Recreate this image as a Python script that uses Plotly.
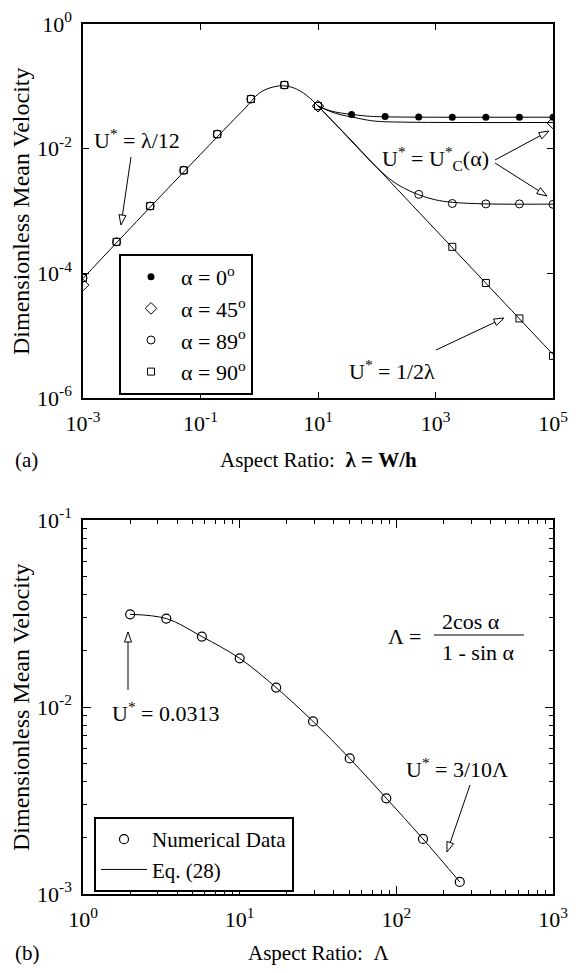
import math
import plotly.graph_objects as go

W, H = 579, 973
FONT = "Liberation Serif"

# ---------------- data: panel (a) ----------------
lam_a0 = [37.3, 139, 518, 1931, 7197, 26827, 100000]
u_a0 = [0.0352, 0.0328, 0.0321, 0.0320, 0.0320, 0.0320, 0.0320]

lam_a45 = [0.001, 10.0, 100000]
u_a45 = [6.5e-5, 0.0480, 0.0258]

lam_a89 = [0.001, 0.00373, 0.0139, 0.0518, 0.193, 0.720, 2.68, 10.0,
           518, 1931, 7197, 26827, 100000]
u_a89 = [8.4e-5, 3.2e-4, 1.2e-3, 4.5e-3, 0.0171, 0.0625, 0.105, 0.0483,
         1.85e-3, 1.32e-3, 1.30e-3, 1.30e-3, 1.28e-3]

lam_a90 = [0.001, 0.00373, 0.0139, 0.0518, 0.193, 0.720, 2.68, 10.0,
           1931, 7197, 26827, 100000]
u_a90 = [8.4e-5, 3.2e-4, 1.2e-3, 4.5e-3, 0.0171, 0.0625, 0.105, 0.0483,
         2.66e-4, 7.0e-5, 1.89e-5, 4.74e-6]

# theory curves
lam_l90 = [0.001, 0.01, 0.1, 0.316, 0.562, 1.0, 1.585, 2.512, 3.981, 6.31,
           10.0, 15.85, 31.6, 100, 1000, 10000, 100000]
u_l90 = [8.3e-5, 8.3e-4, 8.1e-3, 0.0251, 0.0437, 0.0776, 0.0955, 0.102,
         0.0933, 0.0724, 0.0484, 0.0309, 0.0158, 5.0e-3, 5.0e-4, 5.0e-5, 5.0e-6]

lam_l0 = [10.0, 15.85, 25.1, 37.3, 63.1, 100, 316, 100000]
u_l0 = [0.0484, 0.0407, 0.0372, 0.0355, 0.0335, 0.0327, 0.0321, 0.0320]

lam_l45 = [10.0, 15.85, 25.1, 37.3, 63.1, 100, 316, 100000]
u_l45 = [0.0484, 0.0398, 0.0347, 0.0324, 0.0292, 0.0275, 0.0266, 0.0263]

lam_l89 = [10.0, 31.6, 63.1, 100, 158, 251, 518, 1000, 1931, 7197, 100000]
u_l89 = [0.0484, 0.0155, 0.00776, 0.00501, 0.00339, 0.00251, 0.00182,
         0.00151, 0.00138, 0.00130, 0.00129]

# ---------------- data: panel (b) ----------------
Lam_b = [2.0, 3.4, 5.74, 10.0, 17.1, 29.4, 50.4, 86.3, 148, 254]
U_b = [0.0313, 0.0297, 0.0238, 0.0182, 0.0127, 0.00837, 0.00531, 0.00325,
       0.00197, 0.00116]

Lam_eq = [2.0, 3.4, 5.74, 10.0, 17.1, 29.4, 50.4, 86.3, 148, 254]
U_eq = [0.0313, 0.0297, 0.0238, 0.0182, 0.0127, 0.00837, 0.00531, 0.00325,
        0.00197, 0.00116]

xtick_a = [1e-3, 1e-1, 1e1, 1e3, 1e5]
xtext_a = ["10<sup>-3</sup>", "10<sup>-1</sup>", "10<sup>1</sup>", "10<sup>3</sup>", "10<sup>5</sup>"]
ytick_a = [1e-6, 1e-4, 1e-2, 1e0]
ytext_a = ["10<sup>-6</sup>", "10<sup>-4</sup>", "10<sup>-2</sup>", "10<sup>0</sup>"]
xtick_b = [1, 10, 100, 1000]
xtext_b = ["10<sup>0</sup>", "10<sup>1</sup>", "10<sup>2</sup>", "10<sup>3</sup>"]
ytick_b = [1e-3, 1e-2, 1e-1]
ytext_b = ["10<sup>-3</sup>", "10<sup>-2</sup>", "10<sup>-1</sup>"]
xminor_b = [m * 10 ** d for d in range(0, 3) for m in range(2, 10)]
yminor_b = [m * 10 ** d for d in (-3, -2) for m in range(2, 10)]


def px(x):
    return x / W


def py(y):
    return 1 - y / H


fig = go.Figure()
LINE = dict(color="black", width=1, shape="spline")

for lx, ly in [(lam_l90, u_l90), (lam_l0, u_l0), (lam_l45, u_l45), (lam_l89, u_l89)]:
    fig.add_trace(go.Scatter(x=lx, y=ly, mode="lines", line=LINE, showlegend=False,
                             hoverinfo="skip", xaxis="x", yaxis="y"))

fig.add_trace(go.Scatter(x=lam_a0, y=u_a0, mode="markers", name="α = 0<sup>o</sup>",
                         marker=dict(symbol="circle", size=7, color="black"),
                         xaxis="x", yaxis="y", legend="legend"))
fig.add_trace(go.Scatter(x=lam_a45, y=u_a45, mode="markers", name="α = 45<sup>o</sup>",
                         marker=dict(symbol="diamond-open", size=9, color="black", line=dict(width=1)),
                         xaxis="x", yaxis="y", legend="legend"))
fig.add_trace(go.Scatter(x=lam_a89, y=u_a89, mode="markers", name="α = 89<sup>o</sup>",
                         marker=dict(symbol="circle-open", size=8, color="black", line=dict(width=1)),
                         xaxis="x", yaxis="y", legend="legend"))
fig.add_trace(go.Scatter(x=lam_a90, y=u_a90, mode="markers", name="α = 90<sup>o</sup>",
                         marker=dict(symbol="square-open", size=7, color="black", line=dict(width=1)),
                         xaxis="x", yaxis="y", legend="legend"))

fig.add_trace(go.Scatter(x=Lam_b, y=U_b, mode="markers", name="Numerical Data",
                         marker=dict(symbol="circle-open", size=9, color="black", line=dict(width=1.2)),
                         xaxis="x2", yaxis="y2", legend="legend2"))
fig.add_trace(go.Scatter(x=Lam_eq, y=U_eq, mode="lines", name="Eq. (28)",
                         line=dict(color="black", width=1, shape="spline"),
                         xaxis="x2", yaxis="y2", legend="legend2"))

axis_common = dict(type="log", showline=True, linecolor="black", linewidth=1.5,
                   mirror="ticks", ticks="inside", ticklen=6, tickwidth=1.2,
                   tickcolor="black", showgrid=False, zeroline=False, automargin=False,
                   tickfont=dict(family=FONT, size=22, color="black"),
                   ticklabelstandoff=5)

fig.update_layout(
    template="none",
    width=W, height=H, autosize=False,
    margin=dict(l=0, r=0, t=0, b=0, pad=0),
    paper_bgcolor="white", plot_bgcolor="white",
    font=dict(family=FONT, size=22, color="black"),
    xaxis=dict(axis_common, domain=[px(83), px(553)], anchor="y", range=[-3, 5],
               tickmode="array", tickvals=xtick_a, ticktext=xtext_a),
    yaxis=dict(axis_common, domain=[py(398), py(24)], anchor="x", range=[-6, 0],
               tickmode="array", tickvals=ytick_a, ticktext=ytext_a),
    xaxis2=dict(axis_common, domain=[px(83), px(553)], anchor="y2", range=[0, 3],
                tickmode="array", tickvals=xtick_b, ticktext=xtext_b, ticklen=8,
                minor=dict(tickmode="array", tickvals=xminor_b, ticks="inside", ticklen=4,
                           tickwidth=1, tickcolor="black", showgrid=False)),
    yaxis2=dict(axis_common, domain=[py(894), py(520)], anchor="x2", range=[-3, -1],
                tickmode="array", tickvals=ytick_b, ticktext=ytext_b, ticklen=8,
                minor=dict(tickmode="array", tickvals=yminor_b, ticks="inside", ticklen=4,
                           tickwidth=1, tickcolor="black", showgrid=False)),
    legend=dict(x=px(119), y=py(254), xanchor="left", yanchor="top",
                bordercolor="black", borderwidth=2, bgcolor="white", itemwidth=50,
                font=dict(family=FONT, size=22, color="black"), tracegroupgap=0),
    legend2=dict(x=px(94), y=py(817), xanchor="left", yanchor="top",
                 bordercolor="black", borderwidth=2, bgcolor="white", itemwidth=46,
                 font=dict(family=FONT, size=21, color="black"), tracegroupgap=0),
)

annotations = []


def text(x, y, s, xanchor="left", size=22, angle=0):
    annotations.append(dict(x=px(x), y=py(y), xref="paper", yref="paper", text=s,
                            showarrow=False, xanchor=xanchor, yanchor="middle",
                            textangle=angle, font=dict(family=FONT, size=size, color="black")))


text(92, 139, "U<sup>*</sup> = λ/12")
text(380, 158, "U<sup>*</sup> = U<sup>*</sup><sub>C</sub>(α)")
text(347, 370, "U<sup>*</sup> = 1/2λ")
text(13, 460, "(a)", size=21)
text(318, 460, "Aspect Ratio:  <b>λ = W/h</b>", xanchor="center", size=21)
text(21, 211, "Dimensionless Mean Velocity", xanchor="center", size=24, angle=-90)

text(110, 712, "U<sup>*</sup> = 0.0313")
text(386, 636, "Λ =")
text(471, 621, "2cos α", xanchor="center")
text(478, 652, "1 - sin α", xanchor="center")
text(404, 768, "U<sup>*</sup> = 3/10Λ")
text(13, 953, "(b)", size=21)
text(318, 953, "Aspect Ratio:  Λ", xanchor="center", size=21)
text(21, 707, "Dimensionless Mean Velocity", xanchor="center", size=24, angle=-90)

shapes = []


def arrow(x0, y0, x1, y1, L=10, w=3.5):
    dx, dy = x1 - x0, y1 - y0
    n = math.hypot(dx, dy)
    ux, uy = dx / n, dy / n
    bx, by = x1 - ux * L, y1 - uy * L
    nx, ny = -uy, ux
    shapes.append(dict(type="line", xref="paper", yref="paper",
                       x0=px(x0), y0=py(y0), x1=px(bx), y1=py(by),
                       line=dict(color="black", width=1)))
    p1 = (bx + nx * w, by + ny * w)
    p2 = (bx - nx * w, by - ny * w)
    path = "M {} {} L {} {} L {} {} Z".format(px(x1), py(y1), px(p1[0]), py(p1[1]),
                                               px(p2[0]), py(p2[1]))
    shapes.append(dict(type="path", xref="paper", yref="paper", path=path,
                       fillcolor="white", line=dict(color="black", width=1)))


arrow(131, 157, 121, 225)
arrow(495, 160, 549, 131)
arrow(495, 163, 547, 196)
arrow(436, 350, 504, 318)
arrow(128, 690, 128, 632)
arrow(470, 785, 447, 852)

shapes.append(dict(type="line", xref="paper", yref="paper",
                   x0=px(434), y0=py(635), x1=px(524), y1=py(635),
                   line=dict(color="black", width=1)))

fig.update_layout(annotations=annotations, shapes=shapes)
fig.write_html("out.html")
